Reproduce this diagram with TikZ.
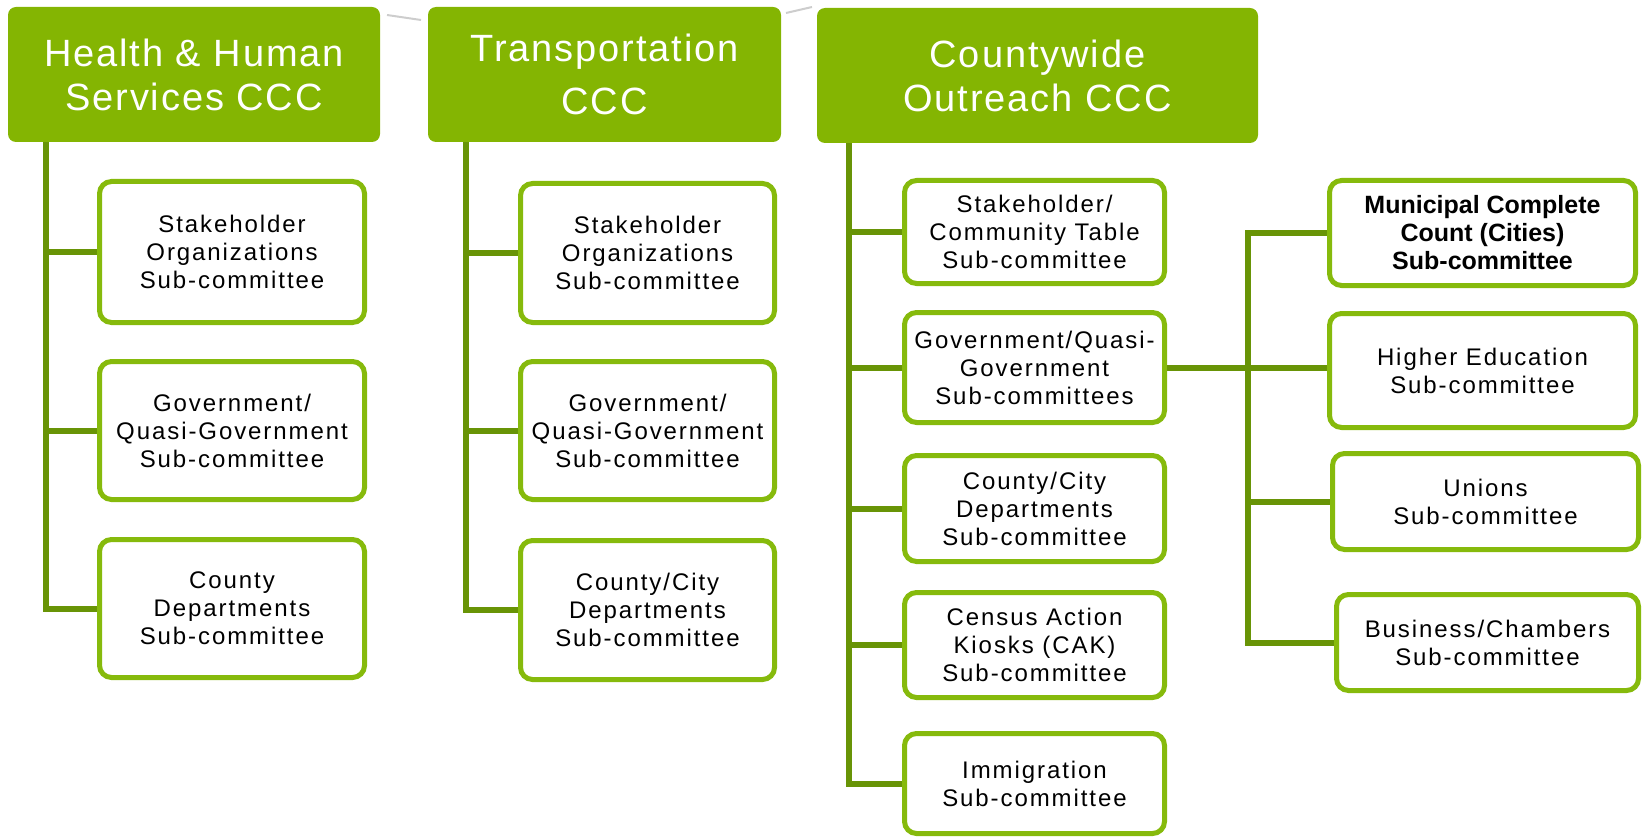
\documentclass[tikz,border=0pt]{standalone}
\usepackage{fontspec}
\setmainfont{Liberation Sans}
\newfontfamily\headfont[LetterSpace=5]{Liberation Sans}
\newfontfamily\boxfont[LetterSpace=8]{Liberation Sans}
\definecolor{headgreen}{RGB}{132,181,2}
\definecolor{rimgreen}{RGB}{134,186,12}
\definecolor{linkgreen}{RGB}{104,148,6}
\definecolor{arcgray}{RGB}{205,205,205}
\tikzset{
  head/.style={fill=headgreen, rounded corners=8pt, text=white, align=center,
    font=\headfont\fontsize{38}{44}\selectfont},
  sub/.style={draw=rimgreen, line width=5pt, fill=white, rounded corners=12pt,
    align=center, font=\boxfont\fontsize{24}{28}\selectfont},
  link/.style={draw=linkgreen, line width=6pt},
}
\begin{document}
\begin{tikzpicture}[x=1pt,y=-1pt]
\useasboundingbox (0,0) rectangle (1644,837);
% faint arcs behind the headers
\draw[arcgray, line width=2pt] (387,15) -- (421,20);
\draw[arcgray, line width=2pt] (786,13) -- (812,7);

% headers
\node[head, minimum width=372pt, minimum height=135pt] (h1) at (194,74.5) {Health \& Human\\Services CCC};
\node[head, minimum width=353pt, minimum height=135pt] (h2) at (604.5,74.5) {Transportation\\[9pt]CCC};
\node[head, minimum width=441pt, minimum height=135pt] (h3) at (1037.5,75.5) {Countywide\\Outreach CCC};

% first column
\node[sub, minimum width=265pt, minimum height=141pt] (a1) at (232,252) {Stakeholder\\Organizations\\Sub-committee};
\node[sub, minimum width=265pt, minimum height=138pt] (a2) at (232,430.5) {Government/\\Quasi-Government\\Sub-committee};
\node[sub, minimum width=265pt, minimum height=138pt] (a3) at (232,608.5) {County\\Departments\\Sub-committee};

% second column
\node[sub, minimum width=254pt, minimum height=139pt] (b1) at (647.5,253) {Stakeholder\\Organizations\\Sub-committee};
\node[sub, minimum width=254pt, minimum height=138pt] (b2) at (647.5,430.5) {Government/\\Quasi-Government\\Sub-committee};
\node[sub, minimum width=254pt, minimum height=139pt] (b3) at (647.5,610) {County/City\\Departments\\Sub-committee};

% third column
\node[sub, minimum width=260pt, minimum height=103pt] (g1) at (1034.5,232) {Stakeholder/\\Community Table\\Sub-committee};
\node[sub, minimum width=260pt, minimum height=110pt] (g2) at (1034.5,367.5) {Government/Quasi-\\Government\\Sub-committees};
\node[sub, minimum width=260pt, minimum height=106pt] (g3) at (1034.5,508.5) {County/City\\Departments\\Sub-committee};
\node[sub, minimum width=260pt, minimum height=105pt] (g4) at (1034.5,645) {Census Action\\Kiosks (CAK)\\Sub-committee};
\node[sub, minimum width=260pt, minimum height=100pt] (g5) at (1034.5,783.5) {Immigration\\Sub-committee};

% fourth column
\node[sub, minimum width=306pt, minimum height=105pt, font=\fontsize{25}{28}\selectfont\bfseries] (e1) at (1482.5,233) {Municipal Complete\\Count (Cities)\\Sub-committee};
\node[sub, minimum width=306pt, minimum height=114pt] (e2) at (1482.5,370.5) {Higher Education\\Sub-committee};
\node[sub, minimum width=306pt, minimum height=96pt] (e3) at (1485.5,501.5) {Unions\\Sub-committee};
\node[sub, minimum width=302pt, minimum height=96pt] (e4) at (1487.5,642.5) {Business/Chambers\\Sub-committee};

% connectors
\draw[link] ([xshift=38pt]h1.south west) |- (a1.west);
\draw[link] ([xshift=38pt]h1.south west) |- (a2.west);
\draw[link] ([xshift=38pt]h1.south west) |- (a3.west);
\draw[link] ([xshift=38pt]h2.south west) |- (b1.west);
\draw[link] ([xshift=38pt]h2.south west) |- (b2.west);
\draw[link] ([xshift=38pt]h2.south west) |- (b3.west);
\foreach \n in {g1,g2,g3,g4,g5}
  \draw[link] ([xshift=32pt]h3.south west) |- (\n.west);
\coordinate (fork) at (1248,367.5);
\draw[link] (g2.east) -- (g2.east -| e2.west);
\foreach \n in {e1,e3,e4}
  \draw[link] (fork) |- (\n.west);
\end{tikzpicture}
\end{document}
